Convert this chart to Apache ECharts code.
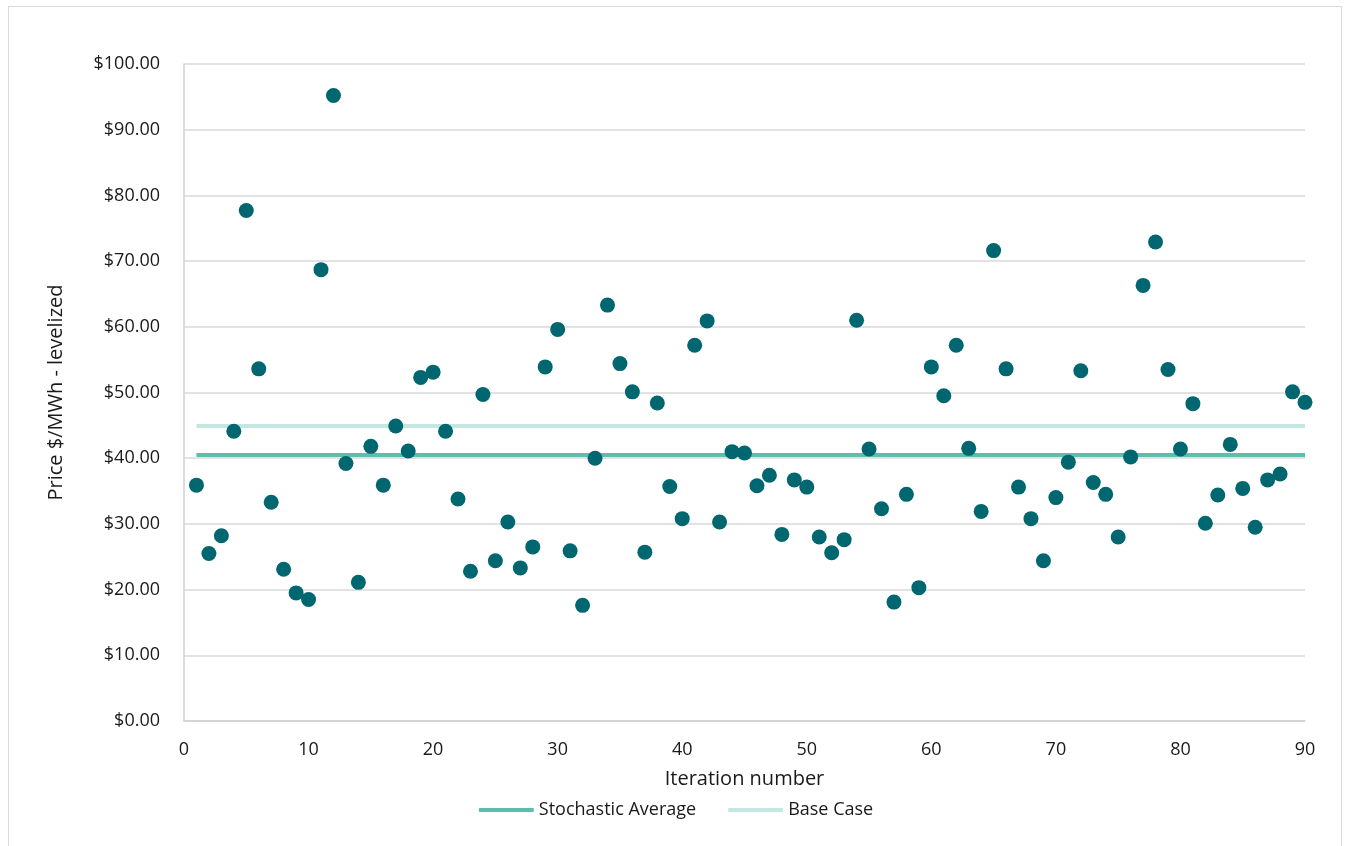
<!DOCTYPE html>
<html><head><meta charset="utf-8">
<script src="https://cdn.jsdelivr.net/npm/echarts@6/dist/echarts.min.js"></script>
<style>html,body{margin:0;padding:0;background:#fff}
#frame{position:absolute;left:8px;top:6px;width:1334px;height:850px;border:1px solid #d9d9d9;box-sizing:border-box}
#c{position:absolute;left:0;top:0;width:1352px;height:846px}</style>
</head><body><div id="frame"></div><div id="c"></div>
<script>
const iterations = Array.from({length: 90}, (_, i) => i + 1);
const prices = [35.9,25.5,28.2,44.1,77.7,53.6,33.3,23.1,19.5,18.5,
68.7,95.2,39.2,21.1,41.8,35.9,44.9,41.1,52.3,53.1,
44.1,33.8,22.8,49.7,24.4,30.3,23.3,26.5,53.9,59.6,
25.9,17.6,40.0,63.3,54.4,50.1,25.7,48.4,35.7,30.8,
57.2,60.9,30.3,41.0,40.8,35.8,37.4,28.4,36.7,35.6,
28.0,25.6,27.6,61.0,41.4,32.3,18.1,34.5,20.3,53.9,
49.5,57.2,41.5,31.9,71.6,53.6,35.6,30.8,24.4,34.0,
39.4,53.3,36.3,34.5,28.0,40.2,66.3,72.9,53.5,41.4,
48.3,30.1,34.4,42.1,35.4,29.5,36.7,37.6,50.1,48.5];
const stochasticAverage = 40.5;
const baseCase = 44.9;

const chart = echarts.init(document.getElementById('c'));
const ff = 'Open Sans, sans-serif';
const tc = '#1a1a1a';
chart.setOption({
  animation: false,
  grid: {left: 184, right: 47, top: 64, bottom: 125},
  xAxis: {
    type: 'value', min: 0, max: 90, interval: 10,
    name: 'Iteration number', nameLocation: 'middle', nameGap: 48,
    nameTextStyle: {fontFamily: ff, fontSize: 20, color: tc},
    axisLine: {show: true, lineStyle: {color: '#d0d0d0', width: 1.5}},
    axisTick: {show: false},
    splitLine: {show: false},
    axisLabel: {fontFamily: ff, fontSize: 18, color: tc, margin: 20}
  },
  yAxis: {
    type: 'value', min: 0, max: 100, interval: 10,
    name: 'Price $/MWh - levelized', nameLocation: 'middle', nameGap: 118, nameRotate: 90,
    nameTextStyle: {fontFamily: ff, fontSize: 20, color: tc},
    axisLine: {show: true, lineStyle: {color: '#d0d0d0', width: 1.5}},
    axisTick: {show: false},
    splitLine: {show: true, lineStyle: {color: '#d9d9d9', width: 1.5}},
    axisLabel: {fontFamily: ff, fontSize: 18, color: tc, margin: 24,
      formatter: v => '$' + v.toFixed(2)}
  },
  legend: {
    bottom: 22, left: 'center', itemGap: 32, itemWidth: 55, itemHeight: 4,
    textStyle: {fontFamily: ff, fontSize: 18, color: tc},
    data: [{name: 'Stochastic Average', icon: 'roundRect'}, {name: 'Base Case', icon: 'roundRect'}]
  },
  series: [
    {name: 'Stochastic Average', type: 'line', symbol: 'none',
     lineStyle: {color: '#5bbfae', width: 4}, itemStyle: {color: '#5bbfae'},
     data: iterations.map(i => [i, stochasticAverage]), z: 2},
    {name: 'Base Case', type: 'line', symbol: 'none',
     lineStyle: {color: '#c3e8e2', width: 4}, itemStyle: {color: '#c3e8e2'},
     data: iterations.map(i => [i, baseCase]), z: 2},
    {name: 'Price', type: 'scatter', symbolSize: 15,
     itemStyle: {color: '#006770', opacity: 1},
     data: iterations.map((i, k) => [i, prices[k]]), z: 3}
  ]
});
</script></body></html>
